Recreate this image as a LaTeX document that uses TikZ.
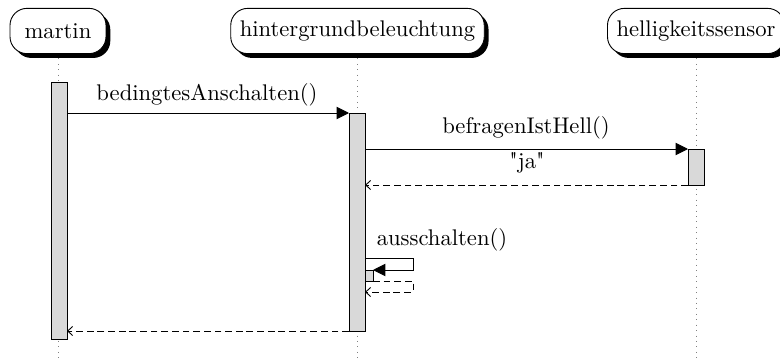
\documentclass[tikz,border=0pt]{standalone}
\usetikzlibrary{arrows.meta,shadows}
\begin{document}
\begin{tikzpicture}[x=0.4417pt,y=-0.4417pt,
  thread/.style={draw, fill=white, rounded corners=7.5pt, minimum height=20pt,
    inner xsep=4pt, inner ysep=0pt,
    drop shadow={fill=black, opacity=1, shadow xshift=1.9pt, shadow yshift=-1.9pt}},
  bar/.style={draw, fill=gray!30, inner sep=0pt, anchor=north west},
  lifeline/.style={draw=gray, dotted},
  call/.style={draw, -{Triangle[length=5.5pt,width=5.5pt]}},
  ret/.style={draw, dash pattern=on 3pt off 1.7pt, -{Straight Barb[length=2.2pt,width=4pt]}},
  lbl/.style={inner sep=0pt}]
\useasboundingbox (0,0) rectangle (780,362);
% lifelines
\coordinate (mtop) at (58.5,53);
\coordinate (mbot) at (58.5,362);
\coordinate (htop) at (357,53);
\coordinate (hbot) at (357,362);
\coordinate (stop) at (696,53);
\coordinate (sbot) at (696,362);
\draw[lifeline] (mtop) -- (mbot);
\draw[lifeline] (htop) -- (hbot);
\draw[lifeline] (stop) -- (sbot);
% threads
\node[thread, minimum width=42.4pt] (martin) at (58,31) {martin};
\node[thread] (hint) at (357.5,31) {hintergrundbeleuchtung};
\node[thread] (sens) at (696,31) {helligkeitssensor};
% activation bars
\node[bar, minimum width=16*0.4417pt, minimum height=257*0.4417pt] (mbar) at (51,82) {};
\node[bar, minimum width=16*0.4417pt, minimum height=218*0.4417pt] (hbar) at (349,113) {};
\node[bar, minimum width=16*0.4417pt, minimum height=36*0.4417pt] (sbar) at (688,149) {};
\node[bar, minimum width=8*0.4417pt, minimum height=11*0.4417pt] (nbar) at (365,270) {};
% message coordinates
\coordinate (c1s) at (67,113);
\coordinate (c1e) at (349,113);
\coordinate (c2s) at (365,149);
\coordinate (c2e) at (688,149);
\coordinate (r2s) at (688,185);
\coordinate (r2e) at (365,185);
\coordinate (c3s) at (365,258);
\coordinate (c3a) at (413,258);
\coordinate (c3b) at (413,270);
\coordinate (c3e) at (373,270);
\coordinate (r3s) at (373,281);
\coordinate (r3a) at (413,281);
\coordinate (r3b) at (413,292);
\coordinate (r3e) at (365,292);
\coordinate (r1s) at (349,331);
\coordinate (r1e) at (67,331);
% messages
\draw[call] (c1s) -- (c1e);
\node[lbl] (l1) at (207,95) {bedingtesAnschalten()};
\draw[call] (c2s) -- (c2e);
\node[lbl] (l2) at (526,128) {befragenIstHell()};
\draw[ret] (r2s) -- (r2e);
\node[lbl] (l3) at (527,163) {\textquotedbl ja\textquotedbl};
\draw[call] (c3s) -- (c3a) -- (c3b) -- (c3e);
\node[lbl] (l4) at (442,240) {ausschalten()};
\draw[ret] (r3s) -- (r3a) -- (r3b) -- (r3e);
\draw[ret] (r1s) -- (r1e);
\end{tikzpicture}
\end{document}
